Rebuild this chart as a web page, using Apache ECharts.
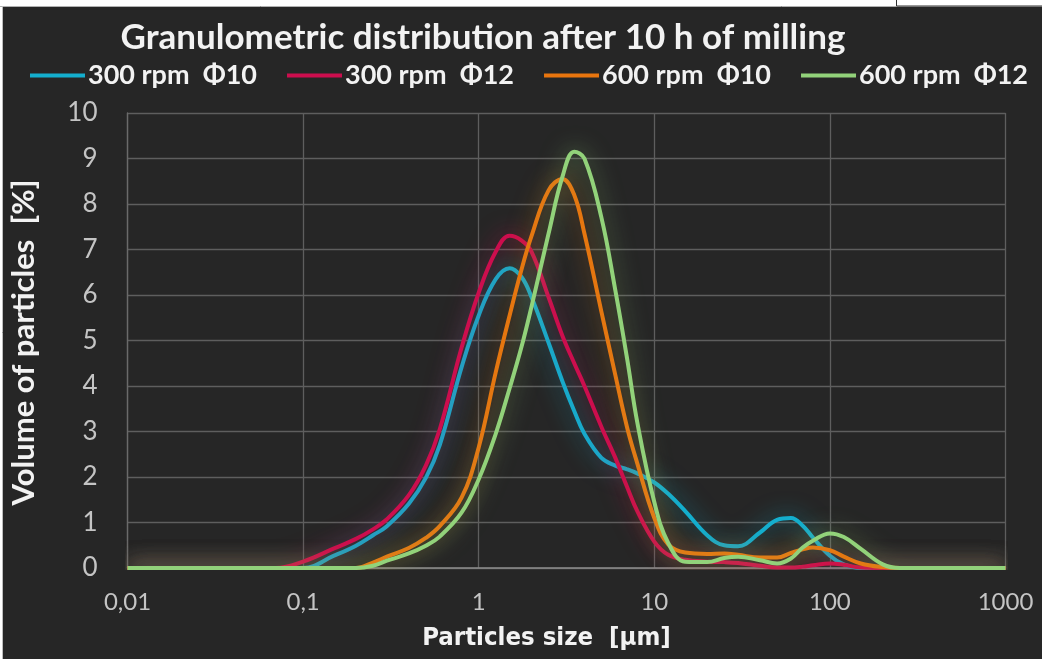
<!DOCTYPE html>
<html>
<head>
<meta charset="utf-8">
<script src="https://cdn.jsdelivr.net/npm/echarts@6/dist/echarts.min.js"></script>
<style>
html,body{margin:0;padding:0;background:#fff;}
#chart{width:1042px;height:659px;}
</style>
</head>
<body>
<div id="chart"></div>
<script>
// Particle sizes [µm] (shared x positions of the readings)
const sizes = [0.01, 0.05, 0.07, 0.1, 0.15, 0.2, 0.25, 0.3, 0.4, 0.5, 0.6, 0.8, 1, 1.25, 1.5, 1.75, 2, 2.5, 3, 3.5, 4, 5, 6, 7, 8, 10, 12, 15, 20, 25, 30, 40, 50, 60, 70, 80, 100, 120, 150, 200, 250, 1000];

const rpm300phi10 = [0, 0, 0, 0, 0.27, 0.49, 0.72, 0.92, 1.41, 1.98, 2.7, 4.42, 5.55, 6.35, 6.59, 6.4, 5.95, 4.95, 4.1, 3.45, 2.95, 2.42, 2.25, 2.17, 2.08, 1.88, 1.63, 1.25, 0.72, 0.5, 0.48, 0.78, 1.06, 1.1, 0.93, 0.67, 0.27, 0.08, 0, 0, 0, 0];
const rpm300phi12 = [0, 0, 0, 0.14, 0.43, 0.64, 0.85, 1.07, 1.6, 2.25, 3.05, 4.85, 6.05, 6.95, 7.3, 7.2, 6.95, 5.95, 5.1, 4.5, 4.0, 3.1, 2.42, 1.78, 1.25, 0.58, 0.29, 0.18, 0.14, 0.13, 0.11, 0.05, 0.01, 0.01, 0.03, 0.06, 0.1, 0.07, 0.01, 0, 0, 0];
const rpm600phi10 = [0, 0, 0, 0, 0, 0, 0.12, 0.25, 0.44, 0.66, 0.92, 1.55, 2.65, 4.3, 5.55, 6.55, 7.3, 8.3, 8.55, 8.2, 7.35, 5.63, 4.24, 3.09, 2.3, 1.1, 0.52, 0.34, 0.31, 0.32, 0.29, 0.23, 0.23, 0.33, 0.41, 0.45, 0.39, 0.25, 0.1, 0.02, 0, 0];
const rpm600phi12 = [0, 0, 0, 0, 0, 0, 0.05, 0.16, 0.32, 0.49, 0.69, 1.22, 1.95, 2.95, 3.95, 4.85, 5.75, 7.35, 8.6, 9.15, 9.0, 7.7, 6.1, 4.6, 3.2, 1.45, 0.55, 0.14, 0.13, 0.22, 0.25, 0.17, 0.1, 0.21, 0.45, 0.6, 0.76, 0.68, 0.42, 0.08, 0, 0];

const seriesNames = ['300 rpm  Φ10', '300 rpm  Φ12', '600 rpm  Φ10', '600 rpm  Φ12'];
const seriesColors = ['#14aece', '#cc0e4e', '#e8750e', '#92d27a'];
const glowColors = ['rgba(20,174,206,0.7)', 'rgba(204,14,78,0.7)', 'rgba(232,117,14,0.6)', 'rgba(146,210,122,0.65)'];
const seriesValues = [rpm300phi10, rpm300phi12, rpm600phi10, rpm600phi12];

const yTicks = [0, 1, 2, 3, 4, 5, 6, 7, 8, 9, 10];
const xTickLabels = {0.01: '0,01', 0.1: '0,1', 1: '1', 10: '10', 100: '100', 1000: '1000'};

const chart = echarts.init(document.getElementById('chart'), null, {renderer: 'canvas'});
const FONT = 'Lato, "Open Sans", sans-serif';

const series = seriesNames.map((name, i) => ({
  name: name,
  type: 'line',
  smooth: 0.4,
  symbol: 'none',
  data: sizes.map((s, k) => [s, seriesValues[i][k]]),
  lineStyle: {width: 4, color: seriesColors[i], shadowBlur: 22, shadowColor: glowColors[i]},
  itemStyle: {color: seriesColors[i]},
  z: 2 + i
}));

chart.setOption({
  backgroundColor: '#262626',
  animation: false,
  title: {
    text: 'Granulometric distribution after 10 h of milling',
    left: 478, top: 15, textAlign: 'center',
    textStyle: {color: '#f2f2f2', fontSize: 35, fontWeight: 'bold', fontFamily: FONT}
  },
  legend: {
    data: seriesNames,
    left: 25, top: 57,
    icon: 'rect', itemWidth: 55, itemHeight: 4, itemGap: 30,
    textStyle: {color: '#f2f2f2', fontSize: 27, fontWeight: 'bold', fontFamily: FONT, padding: [0, 0, 0, -2]}
  },
  grid: {left: 127.5, right: 36.5, top: 113, bottom: 91},
  xAxis: {
    type: 'log', logBase: 10, min: 0.01, max: 1000,
    name: 'Particles size  [µm]', nameLocation: 'middle', nameGap: 57,
    nameTextStyle: {color: '#f2f2f2', fontSize: 25.5, fontWeight: 'bold', fontFamily: '"Liberation Sans Narrow", "DejaVu Sans Condensed", ' + FONT, padding: [0, 40, 0, 0]},
    axisLine: {show: true, lineStyle: {color: '#8c8c8c', width: 1.5}},
    axisTick: {show: false},
    minorTick: {show: false},
    splitLine: {show: true, lineStyle: {color: '#5e5e5e', width: 1.3}},
    axisLabel: {color: '#c4c4c4', fontSize: 24, fontFamily: FONT, margin: 22,
      formatter: v => xTickLabels[+v.toPrecision(3)] !== undefined ? xTickLabels[+v.toPrecision(3)] : String(v).replace('.', ',')}
  },
  yAxis: {
    type: 'value', min: yTicks[0], max: yTicks[yTicks.length - 1], interval: 1,
    name: 'Volume of particles  [%]', nameLocation: 'middle', nameGap: 88,
    nameTextStyle: {color: '#f2f2f2', fontSize: 31, fontWeight: 'bold', fontFamily: FONT, padding: [0, 4, 0, 0]},
    axisLine: {show: true, lineStyle: {color: '#6a6a6a', width: 1.3}},
    axisTick: {show: false},
    splitLine: {show: true, lineStyle: {color: '#5e5e5e', width: 1.3}},
    axisLabel: {color: '#c4c4c4', fontSize: 26, fontFamily: FONT, margin: 30}
  },
  graphic: [
    {type: 'rect', shape: {x: 0, y: 0, width: 1042, height: 6}, style: {fill: '#ffffff'}, z: 100},
    {type: 'line', shape: {x1: 0, y1: 6.5, x2: 1042, y2: 6.5}, style: {stroke: '#b0b0b0', lineWidth: 1}, z: 101},
    {type: 'rect', shape: {x: 0, y: 0, width: 2, height: 659}, style: {fill: '#ffffff'}, z: 100},
    {type: 'line', shape: {x1: 2.5, y1: 6, x2: 2.5, y2: 659}, style: {stroke: '#bdbdbd', lineWidth: 1}, z: 101},
    {type: 'rect', shape: {x: 896.5, y: -2, width: 150, height: 8}, style: {fill: '#ffffff', stroke: '#303030', lineWidth: 1}, z: 102}
  ],
  series: series
});
</script>
</body>
</html>
